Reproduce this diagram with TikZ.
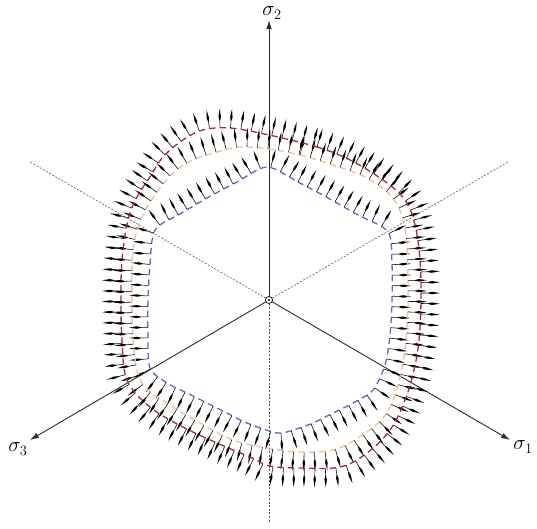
\documentclass[tikz,border=0pt]{standalone}
\usetikzlibrary{arrows.meta,decorations.markings}
\definecolor{cblue}{RGB}{85,105,205}
\definecolor{corange}{RGB}{240,190,155}
\definecolor{cred}{RGB}{175,35,65}
\definecolor{axisgray}{RGB}{45,45,45}
\tikzset{
  axisline/.style={draw=axisgray, line width=0.9pt, -{Latex[length=9pt,width=5.5pt]}},
  dashline/.style={draw=axisgray!80, line width=0.6pt, dash pattern=on 2pt off 1.6pt},
  lbl/.style={font=\fontsize{20}{24}\selectfont, inner sep=0pt},
  yieldcurve/.style={line width=1.3pt, dash pattern=on 6pt off 4.5pt},
  needles/.style={decoration={markings,
      mark=between positions 0 and 1 step 10.5pt with {
        \draw[black, line width=0.55pt] (0pt,0pt) -- (0pt,8pt);
        \fill[black] (0pt,5.5pt) -- (-1.25pt,11pt) -- (0pt,19pt) -- (1.25pt,11pt) -- cycle;}},
    postaction={decorate}}
}
\begin{document}
\begin{tikzpicture}[x=1pt,y=-1pt]
\useasboundingbox (0,0) rectangle (537,528);
\coordinate (O) at (269,300);
\coordinate (s2) at (269,20);
\coordinate (s1) at (510,440);
\coordinate (s3) at (30,440);
\coordinate (d1) at (30,162);
\coordinate (d2) at (508,162);
\coordinate (d3) at (269,522);
% axes
\draw[dashline] (O) -- (d1);
\draw[dashline] (O) -- (d2);
\draw[dashline] (O) -- (d3);
\draw[axisline] (O) -- (s2);
\draw[axisline] (O) -- (s1);
\draw[axisline] (O) -- (s3);
% blue curve
\draw[yieldcurve, draw=cblue, needles] plot[smooth cycle, tension=0.5] coordinates {
 (267,167) (298,182) (328,198) (358,215) (388,232) (392,265) (392,300) (390,335)
 (385,365) (373,390) (353,403) (333,413) (313,423) (293,430) (277,433)
 (247,423) (227,413) (207,403) (187,393) (167,383) (150,368)
 (148,335) (148,300) (150,265) (155,230) (180,214) (207,198) (237,182)};
% orange curve
\draw[yieldcurve, draw=corange, needles] plot[smooth cycle, tension=0.6] coordinates {
 (269,149) (300,155) (333,165) (367,178) (392,197) (403,220) (407,250) (408,300)
 (406,340) (402,368) (395,395) (383,418) (358,438) (333,450) (300,452) (267,448)
 (233,440) (200,423) (167,403) (142,383) (134,350) (132,300) (133,250) (142,217)
 (155,195) (173,173) (193,160) (217,152) (240,147)};
% red curve
\draw[yieldcurve, draw=cred, needles] plot[smooth cycle, tension=0.6] coordinates {
 (269,135) (317,147) (350,160) (383,180) (405,200) (415,225) (420,260) (421,300)
 (419,340) (414,370) (405,400) (390,430) (367,453) (340,467) (300,468) (270,466)
 (250,457) (217,443) (183,427) (150,407) (127,380) (122,340) (121,300) (122,260)
 (128,220) (137,197) (150,177) (163,157) (183,140) (203,130) (230,128)};
% centre
\filldraw[fill=white, draw=black, line width=0.7pt] (O) circle (3.5pt);
\fill[black] (O) circle (1.1pt);
% labels
\node[lbl] (l2) at (272,13) {$\sigma_2$};
\node[lbl] (l1) at (523,447) {$\sigma_1$};
\node[lbl] (l3) at (18,449) {$\sigma_3$};
\end{tikzpicture}
\end{document}
